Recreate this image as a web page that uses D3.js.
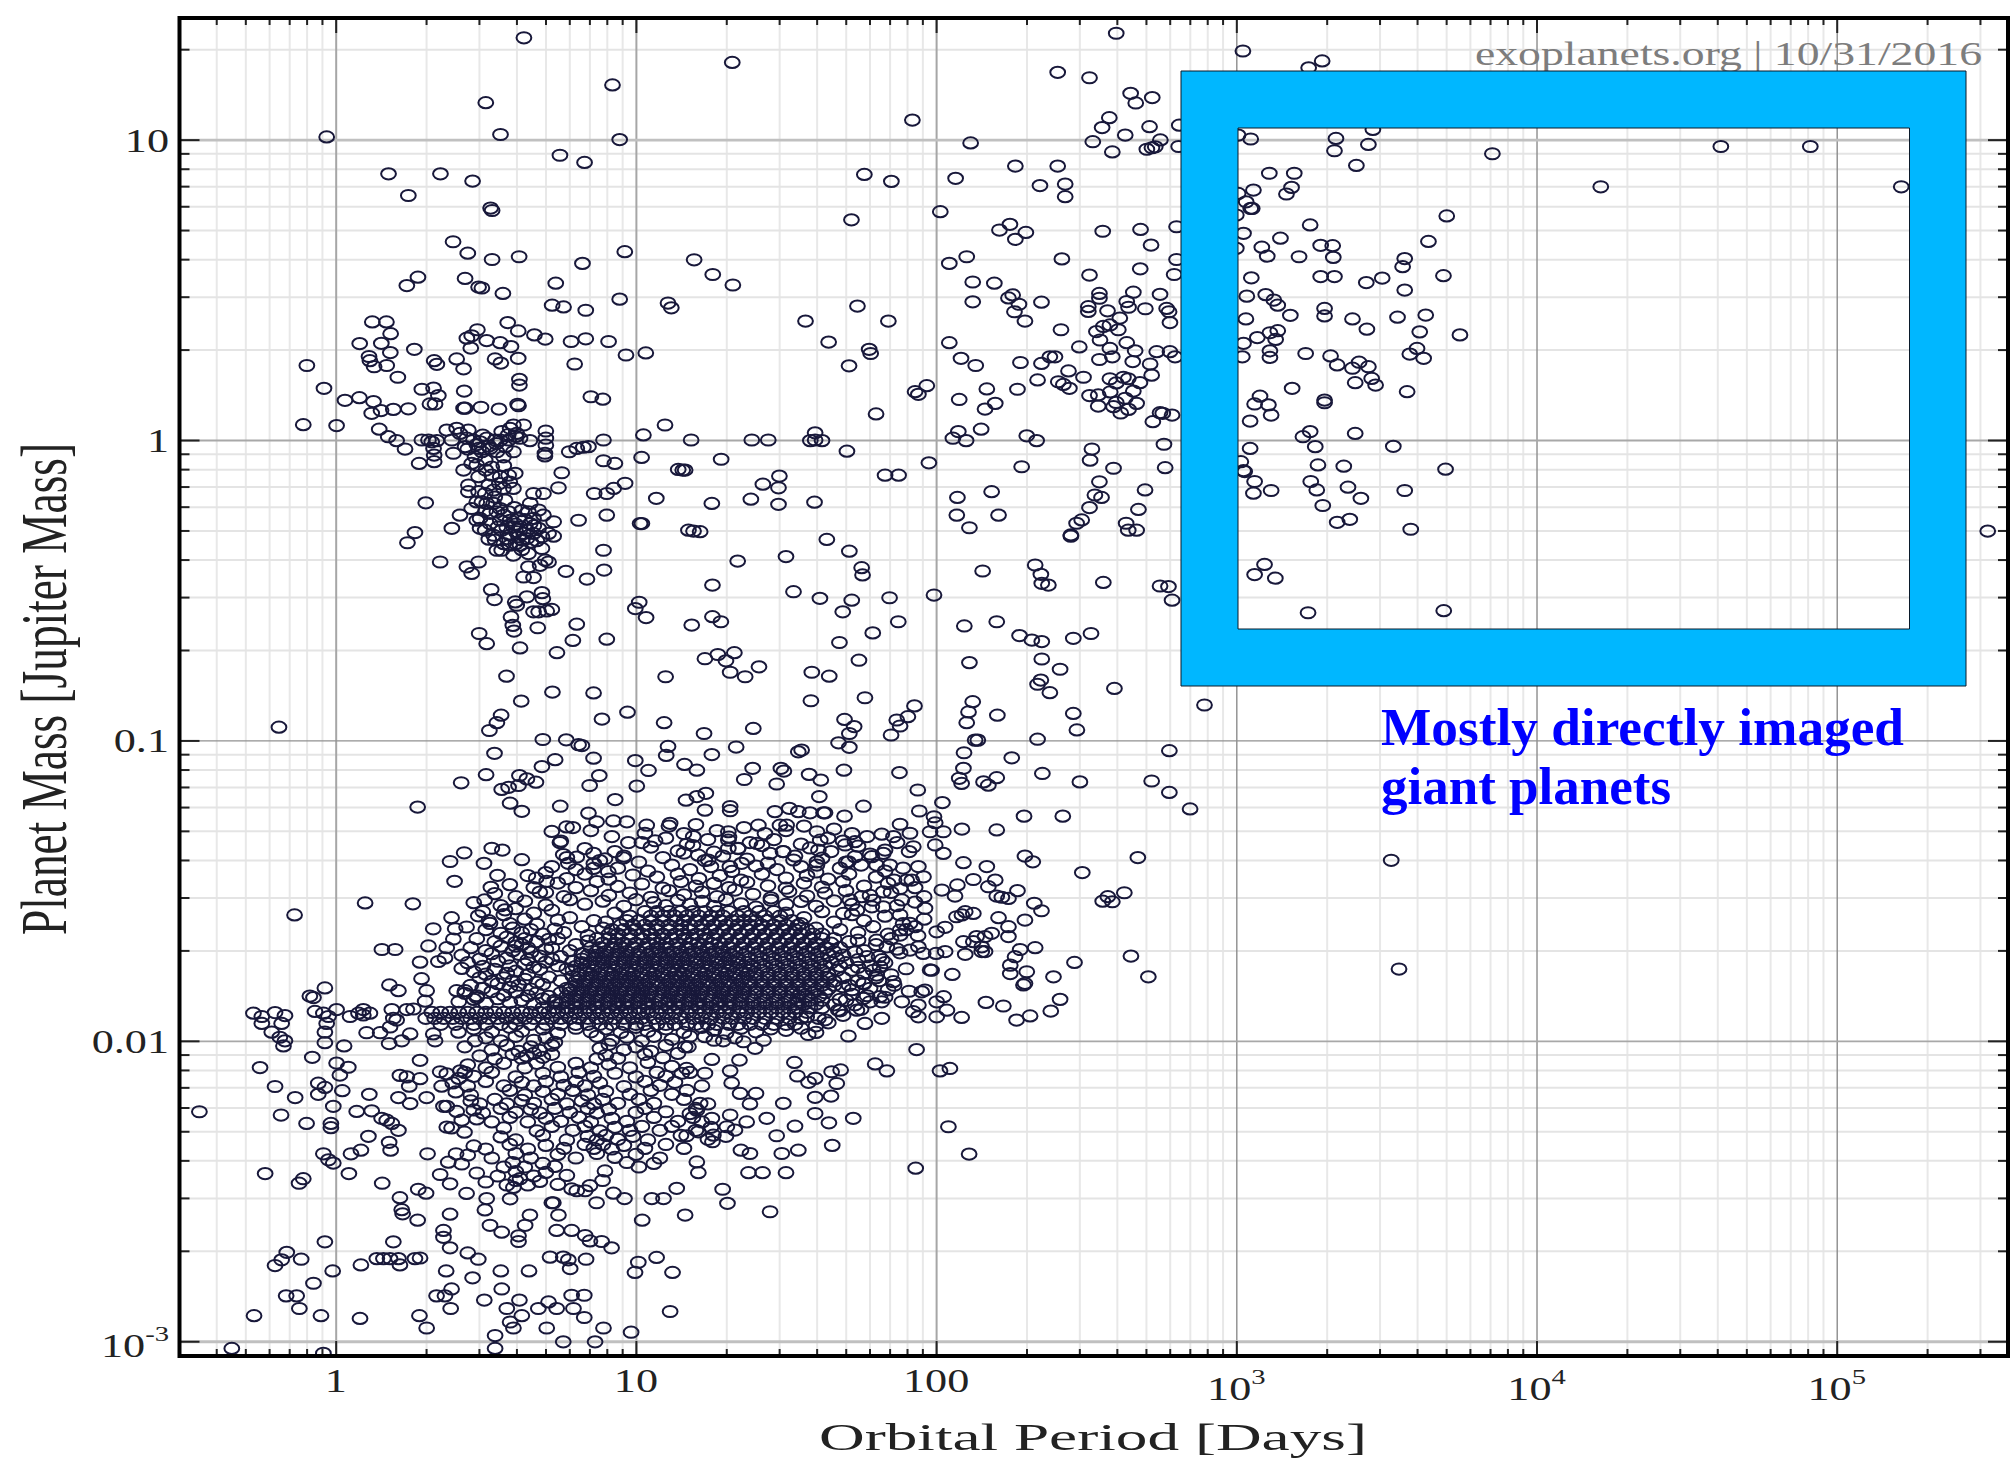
<!DOCTYPE html>
<html lang="en">
<head>
<meta charset="UTF-8">
<title>Planet mass vs orbital period</title>
<script src="https://d3js.org/d3.v7.min.js"></script>
<style>
  html, body { margin: 0; background: #fff; }
  text { font-family: "Liberation Serif", serif; }
  .tick-lbl { font-size: 34px; fill: #222; }
  .frame-ticks path { display: none; }
  .frame-ticks line { stroke: #222; }
  .grid path { display: none; }
</style>
</head>
<body>
<svg id="chart" width="2013" height="1462"></svg>
<script>
// values, all as log10(period in days), log10(mass in Mjup) pairs
var giantsUpperLeft = [
  .627,1.339,.922,1.182,.5,1.123,.549,1.017,-.03,1.009,.946,1,.747,.948,.829,.924,.176,.886,.349,.886,.456,.862,.242,.814,.516,.772,.521,.764,
  .391,.66,.44,.622,.521,.601,.611,.61,.822,.588,.963,.627,.274,.542,.237,.514,.431,.538,.476,.509,.487,.506,.557,.488,.733,.522,.721,.449,.759,.443,
  .833,.432,.946,.469,1.107,.456,1.118,.44,.122,.393,.169,.393,.183,.354,.08,.321,.152,.322,.182,.291,.262,.302,.111,.278,.114,.264,.128,.244,.17,.248,
  .207,.209,-.096,.248,-.039,.172,.031,.132,.079,.141,.126,.128,.12,.089,.151,.098,.192,.102,.242,.104,.287,.169,.326,.173,.342,.148,.314,.12,.331,.12,
  .428,.163,.403,.27,.426,.237,.328,.264,.337,.252,.45,.306,.437,.339,.453,.347,.472,.367,.503,.331,.548,.324,.584,.311,.573,.391,.608,.363,.662,.35,
  .698,.336,.784,.328,.833,.337,.909,.328,.967,.283,1.033,.29,.796,.253,.531,.27,.55,.256,.608,.272,.612,.202,.612,.183,.85,.144,.89,.136,.426,.106,
  .431,.106,.484,.109,.544,.103,.606,.119,.609,.114
];
var giantsUpperMid = [
  1.321,1.257,1.921,1.065,2.115,.989,2.6,1.354,2.405,1.224,2.511,1.206,2.648,1.154,2.665,1.122,2.72,1.14,2.577,1.073,2.553,1.04,2.711,1.043,2.63,1.015,2.81,1.048,
  2.522,.993,2.587,.959,2.702,.968,2.719,.973,2.73,.976,2.747,.999,2.808,.977,1.761,.884,1.851,.861,2.065,.871,2.264,.912,2.405,.912,2.346,.847,2.43,.852,2.43,.81,
  1.718,.733,2.014,.76,2.246,.718,2.211,.699,2.299,.691,2.264,.668,1.194,.6,1.256,.551,1.323,.516,2.102,.61,2.044,.588,2.419,.603,2.555,.695,2.681,.701,2.716,.649,2.801,.71,
  2.68,.57,2.511,.549,2.793,.551,2.801,.601,2.122,.526,2.194,.522,2.122,.46,2.255,.483,2.241,.473,2.276,.452,2.261,.427,2.296,.396,2.351,.459,
  1.738,.446,1.565,.396,1.841,.396,1.642,.326,1.777,.302,1.782,.288,1.71,.247,2.044,.324,2.083,.272,2.132,.248,2.281,.258,2.351,.255,2.379,.277,2.396,.277,2.416,.367,2.477,.31,
  2.441,.23,2.491,.209,2.407,.194,2.424,.185,2.444,.172,2.338,.2,1.969,.181,1.93,.161,1.941,.152,1.8,.087,2.169,.17,2.197,.122,2.163,.103,2.077,.135,2.271,.169,
  2.511,.148,2.54,.15,2.54,.113,2.544,.488,2.544,.472,2.507,.444,2.507,.428,2.571,.43,2.635,.461,2.657,.492,2.641,.442,2.697,.437,2.746,.485,2.768,.438,2.776,.427,2.779,.391,
  2.612,.406,2.579,.383,2.557,.378,2.534,.361,2.607,.367,2.546,.333,2.635,.324,2.579,.305,2.663,.297,2.735,.294,2.779,.294,2.796,.277,2.544,.268,2.587,.277,2.655,.261,2.713,.253,
  2.579,.204,2.64,.204,2.718,.216,2.624,.209,2.679,.191,2.657,.163,2.63,.139,2.668,.122,2.591,.111,2.641,.102,2.746,.091,2.6,.125,2.615,.09,2.58,.16,2.6,.19
];
var longPeriodGiants = [
  3.022,1.295,3.286,1.262,3.241,1.239,3.455,1.034,3.048,1.002,3.006,1.015,3.332,1.004,3.327,.963,3.44,.984,3.853,.953,4.614,.977,4.912,.977,4.214,.843,5.215,.843,3.4,.914,
  3.11,.888,3.193,.888,3.057,.832,3.184,.841,3.167,.819,3.006,.821,3.033,.793,3.048,.771,3.053,.771,3,.749,3.246,.716,3.701,.746,3.024,.688,3.147,.672,3.085,.642,3.103,.612,3,.638,
  3.209,.61,3.281,.648,3.321,.647,3.323,.608,3.64,.661,3.561,.604,3.554,.577,3.69,.547,3.05,.54,3.281,.544,3.327,.544,3.433,.524,3.486,.539,3.561,.499,3.035,.479,3.098,.484,3.125,.466,
  3.138,.449,3.18,.415,3.294,.438,3.294,.413,3.032,.403,3.387,.403,3.435,.369,3.537,.409,3.631,.416,3.611,.36,3.745,.35,3.07,.341,3.112,.357,3.138,.364,3.131,.335,3.024,.322,3.112,.297,
  3.112,.275,3.02,.277,3.231,.288,3.314,.28,3.336,.25,3.409,.259,3.387,.239,3.44,.244,3.602,.305,3.578,.286,3.624,.272,3.186,.172,3.451,.205,3.396,.191,3.464,.183,3.569,.161,3.079,.146,
  3.294,.133,3.294,.124,3.061,.12,3.107,.117,3.116,.083,3.046,.063,3.246,.028,3.222,.011,3.396,.022,3.263,-.022,3.523,-.021,3.046,-.028,3.272,-.083,3.358,-.087,3.697,-.097,3.015,-.072,
  3.024,-.102,3.028,-.105,3.061,-.138,3.057,-.177,3.116,-.168,3.248,-.138,3.268,-.166,3.372,-.157,3.415,-.194,3.561,-.168,3.288,-.218,3.336,-.274,3.378,-.264,3.581,-.297,5.503,-.303,
  3.094,-.414,3.061,-.448,3.13,-.46,3.239,-.575,3.691,-.568,2.755,.089,2.786,.083,2.722,.061,2.786,-.533,2.894,-.882,
  2.846,-1.228,3.516,-1.399,3.542,-1.761
];
var hotJupiters = [
  -.108,.051,.003,.048,.7,.03,.892,0,1.025,.017,1.097,.05,.145,.036,.175,.011,.203,-.002,.231,-.03,.278,-.078,.778,-.039,.803,-.028,.825,-.024,.842,-.022,.7,.006,.7,-.017,.697,-.044,.697,-.053,
  .647,-.002,.892,-.069,.93,-.078,1.019,-.058,.753,-.109,1.141,-.098,.287,0,.309,0,.32,-.006,.337,-.002,.326,-.028,.328,-.05,.328,-.072,.387,0,.392,-.044,.414,.022,.437,.006,.431,-.022,
  .459,0,.481,-.006,.503,.006,.531,0,.553,.028,.581,.039,.603,.022,.576,0,.592,-.039,.559,-.056,.537,-.039,.514,-.028,.487,-.039,.464,-.056,.476,-.028,.453,-.078,.47,-.083,.498,-.067,.426,-.1,
  .37,.033,.403,.039,.442,.033,.626,.05,.592,.05,.548,0,.614,.006,.598,-.111,.576,-.117,.548,-.122,.52,-.117,.476,-.122,.442,-.15,.442,-.172,.476,-.172,.498,-.178,.526,-.167,.559,-.161,.592,-.161,
  .487,-.206,.47,-.206,.526,-.211,.564,-.2,.548,-.228,.576,-.239,.648,-.211,.659,-.178,.692,-.178,.742,-.159,.453,-.228,.481,-.261,.481,-.294,.514,-.278,.548,-.267,.581,-.267,.609,-.261,.642,-.239,
  .659,-.261,.692,-.25,.726,-.272,.809,-.267,.903,-.25,.861,-.178,.903,-.178,.926,-.161,.964,-.144,1.068,-.194,.526,-.317,.553,-.3,.581,-.317,.609,-.322,.626,-.311,.637,-.3,.659,-.311,.709,-.311,
  .726,-.32,.614,-.35,.592,-.383,.537,-.367,.553,-.367,.642,-.378,.687,-.361,.698,-.4,.709,-.406,.892,-.367,.894,-.433,.837,-.463,.767,-.437,.642,-.422,.626,-.456,.659,-.458,.681,-.417,.414,-.25,
  .387,-.294,.264,-.308,.239,-.342,.3,-.209,.348,-.406,.437,-.422,.453,-.444,.476,-.406,1.014,-.278,1.02,-.278,.503,-.211,.514,-.244,.537,-.239,.592,-.289,.614,-.289,.648,-.278,.676,-.294,.62,-.333,
  .637,-.328,.57,-.328,.531,-.333,.498,-.3,.47,-.267,.676,-.233,.687,-.322,.518,-.498,.529,-.531,.598,-.539,.603,-.55,.637,-.522,.687,-.508,.69,-.528,.659,-.572,.676,-.572,.703,-.569,.72,-.564,
  .584,-.589,.59,-.617,.594,-.636,.673,-.625,.803,-.613,.478,-.644,.503,-.678,.614,-.692,.737,-.708,.79,-.667,.903,-.663,1.011,-.54,.998,-.561,1.034,-.591,.569,-.786,1.099,-.788,.722,-.839,.859,-.842,
  .618,-.869,.551,-.916,.537,-.941,.512,-.967,.972,-.906,.887,-.929,1.094,-.941,-.189,-.956,.69,-.997,.768,-.998,.809,-1.014,.82,-1.017,1.107,-1.02,1.101,-1.05,.529,-1.043,.731,-1.064,.687,-1.087,
  .859,-1.059,.998,-1.067,1.042,-1.1,.501,-1.114,.418,-1.141,.612,-1.117,.637,-1.128,.667,-1.139,.878,-1.117,.846,-1.15,1.003,-1.152,.553,-1.163,.576,-1.156,.609,-1.15,.273,-1.222,.581,-1.209,
  .62,-1.236,.748,-1.219,.842,-1.242,.931,-1.197,
  .51,-.02,.535,-.012,.565,-.022,.6,.012,.575,.018,.49,.016,.47,-.015,.44,-.03,.56,-.085,.52,-.09,.5,-.1,.545,-.145,.51,-.15,.58,-.14,.53,-.19,.5,-.235,.56,-.25,.595,-.225,.62,-.235,.6,-.28,.57,-.29,.54,-.29,.66,-.285,.63,-.265,.6,-.345,.58,-.35,.65,-.34,.62,-.365,.6,-.305,.67,-.335,.56,-.345,.51,-.33
];
var midGiants = [
  1.184,0,1.386,0,1.441,0,1.597,.024,1.581,-.002,1.62,-.002,1.597,0,1.703,-.037,1.284,-.064,1.164,-.1,1.156,-.1,1.478,-.12,1.423,-.147,1.475,-.159,1.383,-.197,1.253,-.211,1.475,-.214,1.595,-.207,
  1.83,-.117,1.875,-.117,1.976,-.076,2.074,.028,2.056,.006,2.1,-.002,2.15,.036,2.302,.014,2.335,-.002,2.519,-.03,2.513,-.067,2.591,-.094,2.544,-.139,2.696,-.166,2.759,-.014,2.763,-.092,2.285,-.089,
  2.185,-.172,2.071,-.191,2.069,-.25,2.208,-.25,2.111,-.292,2.529,-.183,2.551,-.191,2.511,-.225,2.485,-.266,2.468,-.277,2.449,-.316,2.449,-.32,2.674,-.231,2.633,-.277,2.64,-.3,2.668,-.3,1.175,-.3,
  1.192,-.303,1.214,-.305,1.636,-.331,1.711,-.37,1.5,-.388,1.339,-.403,1.752,-.425,1.755,-.449,1.255,-.483,1.525,-.505,1.613,-.527,1.719,-.533,1.689,-.572,1.845,-.525,1.993,-.516,2.155,-.436,
  2.33,-.416,2.349,-.447,2.352,-.477,2.374,-.483,2.557,-.474,2.746,-.486,2.774,-.488,1.255,-.588,1.283,-.605,1.186,-.616,1.874,-.605,1.789,-.642,1.678,-.674,2.094,-.619,2.202,-.605,2.278,-.651,
  2.319,-.666,2.352,-.671,2.457,-.66,2.516,-.644,1.273,-.714,1.328,-.708,1.23,-.728,1.3,-.735,1.314,-.773,1.364,-.788,1.41,-.755,1.743,-.733,1.586,-.773,1.644,-.786,2.111,-.741,2.352,-.729,2.413,-.763,
  2.349,-.799,2.338,-.813,2.379,-.841,2.594,-.827,1.583,-.868,1.763,-.858,1.928,-.885,2.122,-.871,2.108,-.905,2.102,-.941,2.204,-.916,2.457,-.91,2.469,-.965,1.695,-.93,1.727,-.954,1.711,-.977,
  1.869,-.932,1.906,-.921,1.88,-.952,1.85,-.982,1.227,-.977,1.391,-.96,1.334,-1.022,1.253,-1.047,1.162,-1.08,1.203,-1.099,1.552,-1.032,1.541,-1.038,1.675,-1.008,1.711,-1.023,2.13,-.999,2.139,-.999,
  2.338,-.996,2.093,-1.041,2.252,-1.058,2.777,-1.034,2.354,-1.11,2.091,-1.093,2.077,-1.126,2.085,-1.143,2.158,-1.138,2.174,-1.149,2.202,-1.124,2.479,-1.138,2.718,-1.135,2.777,-1.173,1.389,-1.093,
  1.483,-1.093,1.493,-1.102,1.361,-1.13,1.469,-1.145,1.577,-1.113,1.616,-1.132,1.693,-1.099,1.878,-1.107,1.939,-1.165,1.611,-1.187,1.167,-1.199,1.203,-1.187,1.233,-1.176,1.23,-1.232,1.314,-1.22,
  1.314,-1.234,1.463,-1.237,1.511,-1.226,1.541,-1.237,1.58,-1.241,1.625,-1.241,1.63,-1.241,1.695,-1.252,1.758,-1.219,2.021,-1.207,1.944,-1.235,1.993,-1.254,2.293,-1.252,2.422,-1.252
];
var lowMassLeft = [
  -.454,-2.236,-.137,-1.581,.098,-1.541,.257,-1.544,.428,-1.374,.381,-1.403,.396,-1.469,.52,-1.359,.555,-1.365,.494,-1.409,.539,-1.449,.517,-1.489,.496,-1.531,.62,-1.397,.668,-1.458,.703,-1.469,.7,-1.506,
  .769,-1.288,.72,-1.303,.747,-1.34,.758,-1.38,.775,-1.409,.803,-1.388,.859,-1.376,.897,-1.394,.859,-1.426,.908,-1.437,.958,-1.391,.975,-1.34,1.03,-1.309,1.064,-1.334,1.036,-1.282,1.114,-1.276,
  .869,-1.271,.925,-1.268,.97,-1.271,.386,-1.59,.325,-1.627,.398,-1.627,.436,-1.621,.475,-1.584,.514,-1.609,.564,-1.564,.154,-1.696,.198,-1.696,.309,-1.684,.281,-1.738,.286,-1.793,.303,-1.833,.298,-1.868,
  .179,-1.814,.209,-1.833,-.036,-1.824,-.086,-1.851,-.074,-1.856,.364,-1.724,.342,-1.736,.42,-1.759,.392,-1.661,.37,-1.69,.403,-1.833,.431,-1.833,.47,-1.856,-.274,-1.908,-.246,-1.919,-.246,-1.942,
  -.202,-1.906,-.169,-1.916,-.18,-1.942,-.069,-1.902,-.041,-1.908,-.024,-1.919,.003,-1.896,-.03,-1.942,.048,-1.919,.076,-1.908,.092,-1.914,.114,-1.908,.092,-1.896,.187,-1.896,.192,-1.925,.181,-1.954,
  .203,-1.931,.237,-1.896,.259,-1.894,-.213,-1.971,-.186,-1.988,-.174,-2.017,-.169,-2,-.036,-1.971,-.036,-2.006,.028,-2.017,-.078,-2.055,-.252,-2.089,.103,-1.973,.148,-1.973,.178,-2.009,.22,-2,.248,-1.977,
  .325,-1.977,.331,-2,.409,-1.971,.464,-2,.281,-2.065,.003,-2.074,.042,-2.088,.014,-2.114,-.058,-2.141,-.036,-2.155,-.058,-2.178,.022,-2.166,-.135,-2.189,-.202,-2.152,-.182,-2.247,-.097,-2.275,
  -.008,-2.218,-.016,-2.275,-.016,-2.289,.07,-2.235,.12,-2.233,.112,-2.178,.214,-2.115,.237,-2.12,.281,-2.126,.245,-2.151,.209,-2.189,.248,-2.209,.303,-2.189,.348,-2.103,.353,-2.151,.359,-2.218,.37,-2.218,
  .403,-2.235,.42,-2.264,.37,-2.287,.386,-2.29,.429,-2.304,.153,-2.258,.17,-2.264,.187,-2.275,.209,-2.298,.109,-2.318,.178,-2.338,.183,-2.364,.084,-2.364,.051,-2.376,.306,-2.376,-.041,-2.376,-.024,-2.396,
  -.008,-2.407,.044,-2.442,.155,-2.474,-.235,-2.442,-.108,-2.459,-.122,-2.474,.348,-2.445,.381,-2.476,.375,-2.404,.401,-2.376,.436,-2.508,.275,-2.494,.301,-2.507,.214,-2.522,.22,-2.562,.223,-2.576,.273,-2.597,
  .381,-2.577,.503,-2.525,.497,-2.563,.514,-2.614,.553,-2.637,.581,-2.526,.592,-2.488,.614,-2.459,.647,-2.58,.631,-2.614,.609,-2.649,.609,-2.668,.359,-2.631,.359,-2.654,.381,-2.689,.192,-2.669,-.036,-2.669,
  .44,-2.706,.475,-2.727,-.163,-2.704,-.18,-2.729,-.202,-2.748,-.115,-2.727,-.01,-2.766,.084,-2.746,.137,-2.725,.159,-2.725,.181,-2.725,.209,-2.725,.214,-2.746,.264,-2.725,.281,-2.723,-.074,-2.807,
  -.165,-2.849,-.13,-2.849,-.121,-2.891,-.049,-2.915,-.272,-2.915,.081,-2.924,.279,-2.915,.303,-2.956,.336,-2.849,.364,-2.849,.386,-2.826,.383,-2.891,.368,-2.766,.456,-2.789,.495,-2.863,.55,-2.766,
  .553,-2.826,.644,-2.766,.612,-2.863,.57,-2.891,.62,-2.915,.581,-2.936,.592,-2.956,.675,-2.891,.709,-2.869,.736,-2.891,.786,-2.847,.828,-2.847,.792,-2.891,.828,-2.921,.531,-2.981,.531,-3.024,.703,-2.956,
  .758,-3.002,.864,-3.002,.892,-2.956,.984,-2.97,-.346,-3.024,-.041,-3.04,.714,-2.72,.758,-2.72,.775,-2.729,.781,-2.758,.834,-2.727,.736,-2.631,.786,-2.631,.831,-2.648,.847,-2.666,.886,-2.668,.919,-2.689,
  1.008,-2.737,.997,-2.771,1.069,-2.721,1.122,-2.771,1.021,-2.597,1.114,-2.901,.72,-2.539,.742,-2.58,.725,-2.539,.786,-2.493,.803,-2.499,.831,-2.499,.847,-2.482,.869,-2.539,.925,-2.507,.962,-2.525,
  1.053,-2.525,1.092,-2.525,1.136,-2.491,.897,-2.433,.889,-2.465
];
var lowMassRight = [
  2.672,-1.39,2.487,-1.44,2.296,-1.385,2.322,-1.404,2.202,-1.298,2.086,-1.295,2.091,-1.407,2.169,-1.42,2.124,-1.463,2.197,-1.465,2.071,-1.481,2.019,-1.498,2.063,-1.518,2.174,-1.487,2.202,-1.518,2.219,-1.522,
  2.241,-1.526,2.271,-1.5,2.327,-1.542,2.351,-1.567,2.296,-1.598,2.627,-1.507,2.572,-1.52,2.555,-1.535,2.587,-1.537,2.086,-1.581,2.097,-1.57,2.124,-1.576,2.068,-1.587,2.208,-1.59,2.241,-1.62,2.241,-1.653,
  2.185,-1.642,2.163,-1.653,2.135,-1.653,2.124,-1.67,2.152,-1.687,2.163,-1.703,2.152,-1.703,2.091,-1.67,2.097,-1.712,2.03,-1.622,2.002,-1.637,2.33,-1.69,2.28,-1.696,2.263,-1.72,2.461,-1.739,2.649,-1.718,
  2.707,-1.787,2.247,-1.748,2.247,-1.776,2.302,-1.77,2.296,-1.809,2.291,-1.814,2.391,-1.787,2.413,-1.862,2.382,-1.901,2.313,-1.917,2.268,-1.931,2.224,-1.884,2.166,-1.872,2.085,-1.922,2.054,-1.779,1.98,-1.764,
  1.985,-1.765,2.036,-1.898,2.002,-1.92,2.025,-1.853,2.002,-1.87,1.963,-1.831,1.952,-1.837,1.924,-1.903,1.941,-1.92,2,-1.709,2.03,-1.703,1.957,-1.709,1.913,-1.698,1.88,-1.707,1.941,-1.687,1.913,-1.609,
  1.93,-1.62,1.963,-1.559,1.902,-1.465,1.919,-1.465,1.958,-1.454,1.88,-1.493,1.886,-1.531,1.88,-1.581,1.88,-1.631,1.88,-1.648,1.824,-1.504,1.941,-1.42,2.024,-1.376,1.997,-1.348,1.98,-1.304,2.024,-1.304,
  1.924,-1.354,1.913,-1.309,1.819,-1.312,1.858,-1.32,1.824,-1.376,1.802,-1.415,1.846,-1.415,1.88,-1.279,1.997,-1.274,1.73,-1.337,1.697,-1.348,1.786,-1.387,1.708,-1.404,1.73,-1.387,1.603,-1.304,1.614,-1.332,
  1.608,-1.365,1.603,-1.404,1.603,-1.415,1.491,-1.37,1.447,-1.376,1.525,-1.398,1.403,-1.343,1.308,-1.304,1.308,-1.332,1.308,-1.359,1.341,-1.359,1.208,-1.382,1.241,-1.398,1.313,-1.42,1.352,-1.409,1.191,-1.32,
  1.48,-1.282,1.408,-1.282,1.502,-1.282,1.935,-2.029,1.797,-2.077,1.836,-2.1,2.013,-2.1,2.046,-2.092,2.041,-2.286,2.11,-2.377,1.932,-2.424,1.708,-1.984,1.574,-1.979,1.425,-1.998,1.397,-2.025,1.358,-2.003,
  1.291,-2,1.23,-1.986,1.164,-2.02,1.175,-2.02,1.528,-2.072,1.538,-2.117,1.575,-2.138,1.597,-2.125,1.652,-2.103,1.682,-2.097,1.669,-2.142,1.65,-2.184,1.597,-2.188,1.597,-2.242,1.643,-2.273,1.724,-2.258,
  1.654,-2.348,1.253,-2.062,1.345,-2.064,1.314,-2.1,1.23,-2.108,1.169,-2.092,1.153,-2.108,1.319,-2.14,1.347,-2.175,1.4,-2.175,1.38,-2.21,1.491,-2.208,1.436,-2.258,1.53,-2.284,1.469,-2.316,1.541,-2.364,
  1.486,-2.375,1.38,-2.375,1.35,-2.364,1.214,-2.208,1.203,-2.231,1.253,-2.258,1.314,-2.247,1.369,-2.27,1.33,-2.297,1.303,-2.286,1.258,-2.314,1.255,-2.336,1.208,-2.303,1.169,-2.316,1.18,-2.242,1.203,-2.403,
  1.208,-2.439,1.375,-2.439,1.422,-2.439,1.5,-2.439,1.289,-2.494,1.305,-2.541,1.447,-2.569,1.164,-2.58,1.569,-1.92,1.608,-1.925,1.641,-1.94,1.674,-1.898,1.736,-1.898,1.763,-1.942,1.819,-1.925,1.813,-1.853,
  1.758,-1.859,1.819,-1.87,1.886,-1.87,1.941,-1.881,1.858,-1.803,1.802,-1.781,1.813,-1.753,1.758,-1.809,1.836,-1.687,1.802,-1.665,1.786,-1.554,1.824,-1.554,1.713,-1.531,1.752,-1.52,1.691,-1.576,1.736,-1.565
];
// estimated by eye, the cloud above the core
var cloudTop = [
  .79,-1.29,.85,-1.3,1.11,-1.285,1.16,-1.31,1.2,-1.28,1.27,-1.3,1.36,-1.29,1.43,-1.31,1.5,-1.3,1.56,-1.285,1.66,-1.295,1.72,-1.31,.75,-1.335,.92,-1.32,1.02,-1.34,1.1,-1.325,1.17,-1.345,1.24,-1.33,1.31,-1.322,
  1.38,-1.34,1.46,-1.33,1.55,-1.345,1.64,-1.325,1.69,-1.335,1.77,-1.32,1.87,-1.34,.83,-1.36,.93,-1.37,1.05,-1.355,1.14,-1.368,1.19,-1.35,1.26,-1.372,1.34,-1.36,1.42,-1.35,1.49,-1.37,1.58,-1.358,1.65,-1.37,
  1.74,-1.352,1.83,-1.365,1.91,-1.37,.77,-1.39,.88,-1.4,.96,-1.385,1.01,-1.405,1.09,-1.39,1.16,-1.375,1.23,-1.4,1.29,-1.385,1.37,-1.395,1.44,-1.408,1.53,-1.385,1.62,-1.392,1.7,-1.405,1.78,-1.378,
  .72,-1.42,.8,-1.43,.86,-1.41,.94,-1.425,1.04,-1.435,1.12,-1.415,1.18,-1.43,1.25,-1.42,1.32,-1.436,1.4,-1.418,1.47,-1.43,1.55,-1.42,1.6,-1.438,1.68,-1.425,1.75,-1.415,1.83,-1.435,1.89,-1.425,
  .64,-1.45,.7,-1.44,.77,-1.46,.83,-1.445,.91,-1.462,.99,-1.448,1.07,-1.455,1.14,-1.445,1.21,-1.46,1.28,-1.45,1.35,-1.465,1.42,-1.445,1.5,-1.458,1.57,-1.45,1.64,-1.462,1.71,-1.445,1.8,-1.455,1.86,-1.465,
  .58,-1.48,.66,-1.49,.74,-1.475,.8,-1.49,.87,-1.47,.94,-1.486,1.02,-1.478,1.09,-1.492,1.15,-1.47,1.2,-1.485,1.26,-1.476,1.31,-1.49,1.37,-1.472,1.44,-1.484,1.5,-1.492,1.56,-1.475,1.62,-1.488,1.69,-1.47,
  1.76,-1.485,1.84,-1.476,1.93,-1.49,.53,-1.51,.6,-1.52,.68,-1.505,.76,-1.52,.85,-1.5,.91,-1.516,.98,-1.508,1.05,-1.522,1.11,-1.5,1.16,-1.514,1.22,-1.505,1.27,-1.52,1.33,-1.498,1.39,-1.512,1.45,-1.524,
  1.51,-1.503,1.57,-1.518,1.63,-1.508,1.7,-1.5,1.78,-1.516,1.85,-1.506,1.96,-1.52,.46,-1.54,.55,-1.55,.63,-1.535,.7,-1.548,.78,-1.53,.83,-1.545,.89,-1.535,.96,-1.552,1,-1.53,1.06,-1.54,1.1,-1.55,1.14,-1.532,
  1.18,-1.546,1.22,-1.536,1.26,-1.552,1.3,-1.53,1.35,-1.544,1.4,-1.555,1.45,-1.532,1.5,-1.546,1.55,-1.536,1.6,-1.552,1.66,-1.534,1.72,-1.546,1.79,-1.532,1.87,-1.55,1.93,-1.538
];
// left edge and right tail of the core
var coreEdges = [
  .49,-1.57,.56,-1.58,.6,-1.56,.66,-1.575,.72,-1.565,.51,-1.6,.58,-1.61,.63,-1.595,.67,-1.612,.74,-1.598,.5,-1.63,.55,-1.642,.59,-1.625,.62,-1.64,.65,-1.63,.69,-1.645,.73,-1.628,.47,-1.66,.53,-1.67,.57,-1.655,
  .6,-1.672,.63,-1.66,.6,-1.685,.62,-1.68,.64,-1.69,.67,-1.67,.71,-1.662,.45,-1.69,.5,-1.7,.55,-1.685,.59,-1.7,.65,-1.705,.7,-1.695,.42,-1.715,.48,-1.728,.52,-1.71,.57,-1.725,.61,-1.712,.64,-1.73,.68,-1.718,
  .72,-1.728,.44,-1.74,.49,-1.752,.54,-1.735,.58,-1.75,.63,-1.745,.66,-1.755,.7,-1.738,.46,-1.77,.5,-1.778,.53,-1.762,.57,-1.775,.6,-1.768,.64,-1.78,.68,-1.762,.48,-1.79,.52,-1.802,.56,-1.79,.59,-1.8,.63,-1.795,
  .67,-1.805,.71,-1.788,.45,-1.815,.49,-1.825,.54,-1.81,.58,-1.822,.61,-1.815,.65,-1.828,.69,-1.812,.43,-1.842,.47,-1.85,.52,-1.836,.56,-1.848,.6,-1.838,.64,-1.85,.67,-1.84,.71,-1.852,.41,-1.87,.46,-1.862,.5,-1.875,
  .54,-1.86,.58,-1.872,.62,-1.865,.66,-1.878,.69,-1.86,.73,-1.872,
  .78,-1.59,.86,-1.6,.93,-1.575,.82,-1.62,.9,-1.605,.76,-1.64,.84,-1.65,.89,-1.625,.74,-1.66,.8,-1.68,.84,-1.668,.72,-1.69,.78,-1.7,.82,-1.71,.75,-1.72,.79,-1.735,.74,-1.75,.77,-1.76,.79,-1.785,.75,-1.8,.77,-1.825,
  1.5,-1.575,1.56,-1.59,1.62,-1.57,1.55,-1.61,1.6,-1.625,1.66,-1.605,1.62,-1.645,1.68,-1.63,1.66,-1.66,1.71,-1.67,1.73,-1.705,1.77,-1.72,1.74,-1.755,1.79,-1.765,1.82,-1.73,1.76,-1.81,1.81,-1.8,1.86,-1.815,1.72,-1.83,
  1.77,-1.85,1.83,-1.855,1.7,-1.865,1.75,-1.895,1.68,-1.9,
  1.72,-1.58,1.76,-1.6,1.83,-1.585,1.89,-1.61,1.96,-1.595,1.74,-1.64,1.79,-1.62,1.84,-1.645,1.9,-1.63,1.74,-1.665,1.8,-1.68,1.85,-1.66,1.94,-1.65,1.76,-1.7,1.81,-1.72,1.87,-1.695,1.74,-1.73,1.78,-1.75,1.83,-1.74,
  1.9,-1.76,1.76,-1.775,1.72,-1.765,1.8,-1.79,1.85,-1.78,1.74,-1.8,1.69,-1.82,1.78,-1.825,1.84,-1.83,1.91,-1.835,1.72,-1.845,1.68,-1.862,1.78,-1.87,1.73,-1.88,1.66,-1.88,1.69,-1.915,1.63,-1.93,1.6,-1.95
];
// the very dense core, rows estimated by eye: log10 mass, then the log10 periods on that row
var coreMass = [-1.57,-1.585,-1.6,-1.615,-1.63,-1.645,-1.66,-1.675,-1.69,-1.703,-1.715,-1.728,-1.74,-1.752,-1.765,-1.778,-1.79,-1.802,-1.815,-1.828,-1.84,-1.852,-1.865,-1.878,-1.89,-1.905,-1.925,-1.945];
var corePeriods = [
  [1.03,1.07,1.11,1.15,1.19,1.23,1.27,1.31,1.36,1.41,1.46],
  [.98,1.05,1.09,1.13,1.17,1.21,1.25,1.29,1.34,1.38,1.43,1.48],
  [.97,1.01,1.05,1.09,1.13,1.16,1.2,1.24,1.28,1.32,1.36,1.4,1.44,1.48,1.52],
  [.95,.99,1.03,1.07,1.11,1.15,1.18,1.22,1.26,1.3,1.34,1.38,1.42,1.46,1.5,1.54],
  [.92,.96,1,1.04,1.07,1.11,1.15,1.18,1.22,1.25,1.29,1.33,1.37,1.41,1.45,1.49,1.53,1.57],
  [.91,.94,.98,1.02,1.05,1.09,1.13,1.16,1.2,1.23,1.27,1.31,1.35,1.39,1.43,1.47,1.51,1.55,1.59],
  [.87,.91,.94,.98,1.02,1.06,1.09,1.12,1.16,1.19,1.23,1.26,1.3,1.34,1.38,1.42,1.46,1.5,1.54,1.58,1.62],
  [.89,.93,.96,1,1.04,1.07,1.1,1.14,1.18,1.21,1.25,1.28,1.32,1.36,1.4,1.44,1.48,1.52,1.56,1.6,1.65],
  [.85,.88,.92,.95,.99,1.03,1.07,1.1,1.14,1.17,1.21,1.24,1.28,1.31,1.35,1.39,1.43,1.47,1.51,1.55,1.59,1.63,1.68],
  [.87,.9,.94,.97,1.01,1.05,1.08,1.12,1.15,1.19,1.22,1.26,1.29,1.33,1.37,1.41,1.45,1.49,1.53,1.57,1.61,1.66],
  [.84,.87,.9,.94,.97,1.01,1.04,1.08,1.11,1.15,1.18,1.22,1.25,1.29,1.32,1.36,1.4,1.44,1.48,1.52,1.56,1.6,1.64,1.69],
  [.82,.86,.89,.92,.96,.99,1.03,1.06,1.1,1.13,1.17,1.2,1.24,1.27,1.31,1.34,1.38,1.42,1.46,1.5,1.54,1.58,1.62,1.67],
  [.82,.85,.89,.92,.96,.99,1.03,1.06,1.1,1.13,1.16,1.2,1.23,1.27,1.3,1.34,1.37,1.41,1.45,1.49,1.53,1.57,1.61,1.65,1.7],
  [.8,.84,.87,.91,.94,.98,1.01,1.05,1.08,1.12,1.15,1.18,1.22,1.25,1.29,1.32,1.36,1.39,1.43,1.47,1.51,1.55,1.59,1.63,1.68],
  [.79,.83,.86,.9,.93,.97,1,1.04,1.07,1.11,1.14,1.17,1.21,1.24,1.28,1.31,1.35,1.38,1.42,1.46,1.5,1.54,1.58,1.62,1.67],
  [.81,.85,.88,.92,.95,.99,1.02,1.06,1.09,1.13,1.16,1.19,1.23,1.26,1.3,1.33,1.37,1.4,1.44,1.48,1.52,1.56,1.6,1.64],
  [.81,.85,.88,.92,.95,.98,1.02,1.05,1.09,1.12,1.15,1.19,1.22,1.26,1.29,1.33,1.36,1.4,1.44,1.48,1.52,1.56,1.6,1.64,1.69],
  [.8,.83,.87,.9,.94,.97,1,1.04,1.07,1.11,1.14,1.17,1.21,1.24,1.28,1.31,1.35,1.38,1.42,1.46,1.5,1.54,1.58,1.62,1.66],
  [.8,.83,.87,.9,.93,.97,1,1.03,1.07,1.1,1.14,1.17,1.2,1.24,1.27,1.31,1.34,1.38,1.42,1.46,1.5,1.54,1.58,1.62,1.66,1.71],
  [.78,.82,.85,.89,.92,.95,.99,1.02,1.05,1.09,1.12,1.16,1.19,1.22,1.26,1.29,1.33,1.36,1.4,1.44,1.48,1.52,1.56,1.6,1.64],
  [.75,.78,.82,.85,.89,.92,.95,.99,1.02,1.05,1.09,1.12,1.16,1.19,1.22,1.26,1.29,1.33,1.36,1.4,1.44,1.48,1.52,1.55,1.59,1.63],
  [.77,.8,.84,.87,.91,.94,.97,1.01,1.04,1.07,1.11,1.14,1.18,1.21,1.24,1.28,1.31,1.35,1.38,1.42,1.46,1.5,1.54,1.57,1.61],
  [.73,.77,.8,.84,.87,.91,.94,.97,1.01,1.04,1.08,1.11,1.14,1.18,1.21,1.25,1.28,1.31,1.35,1.39,1.43,1.47,1.51,1.54,1.58,1.62],
  [.75,.79,.82,.86,.89,.93,.96,.99,1.03,1.06,1.1,1.13,1.16,1.2,1.23,1.27,1.3,1.33,1.37,1.41,1.45,1.49,1.53,1.56,1.6],
  [.69,.73,.77,.8,.84,.87,.91,.94,.97,1.01,1.04,1.08,1.11,1.14,1.18,1.21,1.25,1.28,1.31,1.35,1.39,1.43,1.47,1.51,1.54,1.58,1.62],
  [.32,.35,.38,.41,.44,.47,.5,.53,.56,.59,.62,.65,.68,.71,.74,.77,.8,.83,.86,.89,.92,.95,.98,1.01,1.04,1.07,1.1,1.13,1.17,1.2,1.23,1.27,1.3,1.34,1.37,1.41,1.45,1.49,1.53,1.57],
  [.3,.33,.36,.39,.42,.45,.48,.51,.54,.57,.6,.63,.66,.69,.72,.75,.78,.81,.84,.87,.9,.93,.96,.99,1.02,1.06,1.09,1.12,1.15,1.19,1.22,1.25,1.29,1.32,1.36,1.39,1.43,1.47,1.51,1.55],
  [.35,.4,.46,.5,.55,.6,.65,.7,.75,.8,.84,.88,.92,.96,1,1.03,1.07,1.1,1.13,1.17,1.2,1.24,1.27,1.31,1.34,1.38,1.42,1.46,1.5,1.53]
];
// estimated by eye, the cloud below the core
var cloudBottom = [
  .46,-1.96,.52,-1.97,.58,-1.955,.62,-1.968,.69,-1.96,.74,-1.975,.8,-1.958,.85,-1.97,.9,-1.96,.95,-1.972,1,-1.955,1.04,-1.968,1.1,-1.96,1.16,-1.972,1.22,-1.955,1.26,-1.965,1.3,-1.975,1.35,-1.958,1.4,-1.97,
  1.45,-1.96,1.5,-1.965,1.55,-1.958,1.6,-1.972,.5,-1.99,.55,-2,.6,-1.985,.66,-1.998,.7,-1.99,.73,-2.005,.87,-1.985,.92,-1.998,.97,-1.988,1.02,-2,1.06,-1.985,1.12,-1.995,1.18,-1.985,1.26,-1.998,1.33,-1.99,
  .43,-2.02,.52,-2.03,.57,-2.015,.61,-2.035,.65,-2.02,.68,-2.032,.72,-2.015,.88,-2.025,.91,-2.012,.96,-2.03,1,-2.02,1.05,-2.035,1.1,-2.015,.48,-2.05,.53,-2.06,.59,-2.045,.62,-2.058,.635,-2.05,.66,-2.042,
  .69,-2.055,.72,-2.045,.87,-2.06,.9,-2.048,.94,-2.058,1.03,-2.045,1.09,-2.056,1.14,-2.042,.44,-2.08,.5,-2.09,.56,-2.075,.63,-2.09,.67,-2.075,.74,-2.088,.8,-2.075,.85,-2.09,.91,-2.078,.98,-2.09,1.04,-2.072,
  1.12,-2.085,.37,-2.11,.41,-2.125,.43,-2.105,.415,-2.1,.46,-2.118,.52,-2.105,.6,-2.12,.69,-2.108,.75,-2.12,.81,-2.105,.86,-2.118,.93,-2.108,1,-2.12,1.07,-2.105,1.1,-2.118,1.18,-2.105,.39,-2.14,.44,-2.15,
  .5,-2.135,.56,-2.15,.62,-2.138,.66,-2.15,.7,-2.135,.76,-2.148,.8,-2.135,.83,-2.15,.88,-2.14,.96,-2.152,1.03,-2.135,1.08,-2.148,1.13,-2.138,1.22,-2.15,.4,-2.17,.45,-2.18,.58,-2.165,.63,-2.18,.69,-2.168,
  .74,-2.178,.79,-2.165,.84,-2.18,.9,-2.168,.98,-2.178,1.05,-2.165,1.12,-2.178,1.17,-2.165,.45,-2.2,.48,-2.21,.53,-2.195,.57,-2.21,.62,-2.198,.66,-2.208,.72,-2.195,.77,-2.21,.82,-2.2,.86,-2.21,.89,-2.195,
  .94,-2.208,1.01,-2.195,1.06,-2.208,1.16,-2.195,1.24,-2.21,.46,-2.23,.49,-2.24,.55,-2.225,.6,-2.238,.65,-2.228,.68,-2.24,.73,-2.225,.78,-2.238,.84,-2.225,.87,-2.24,.91,-2.228,1,-2.238,1.03,-2.225,1.1,-2.236,
  1.2,-2.225,.47,-2.26,.52,-2.27,.58,-2.255,.64,-2.27,.7,-2.258,.75,-2.268,.81,-2.255,.85,-2.27,.92,-2.258,.97,-2.268,1.06,-2.255,1.14,-2.268,1.19,-2.255,1.22,-2.27,.56,-2.29,.67,-2.3,.72,-2.285,.79,-2.298,
  .83,-2.285,.88,-2.3,.93,-2.288,.98,-2.298,1.02,-2.285,1.08,-2.298,1.12,-2.285,1.2,-2.298,1.25,-2.288,.55,-2.32,.6,-2.33,.69,-2.315,.77,-2.33,.84,-2.318,.87,-2.33,.9,-2.315,.94,-2.328,.99,-2.318,1.04,-2.33,
  1.15,-2.315,1.24,-2.328,1.3,-2.318,.46,-2.35,.5,-2.36,.58,-2.345,.64,-2.36,.7,-2.348,.76,-2.358,.83,-2.345,.86,-2.358,.89,-2.345,.92,-2.36,.96,-2.348,1.03,-2.358,1.1,-2.345,1.16,-2.358,.44,-2.38,.52,-2.39,
  .6,-2.375,.65,-2.39,.74,-2.378,.8,-2.39,.87,-2.375,.93,-2.388,1,-2.378,1.08,-2.39,.42,-2.41,.56,-2.42,.59,-2.405,.63,-2.42,.69,-2.408,.73,-2.418,.97,-2.405,1.01,-2.42,1.06,-2.408,.47,-2.44,.54,-2.45,.6,-2.435,
  .66,-2.45,.7,-2.438,.77,-2.448,.5,-2.47,.57,-2.48,.6,-2.465,.64,-2.48,.68,-2.468,.74,-2.478
];

var xTicks = [1, 10, 100, 1000, 10000, 100000];
var xTickText = ['1', '10', '100', '10', '10', '10'];
var xTickSup = ['', '', '', '3', '4', '5'];
var yTicks = [10, 1, 0.1, 0.01, 0.001];
var yTickText = ['10', '1', '0.1', '0.01', '10'];
var yTickSup = ['', '', '', '', '-3'];
var xMinor = [.4,.5,.6,.7,.8,.9,2,3,4,5,6,7,8,9,20,30,40,50,60,70,80,90,200,300,400,500,600,700,800,900,2000,3000,4000,5000,6000,7000,8000,9000,
  20000,30000,40000,50000,60000,70000,80000,90000,200000,300000];
var yMinor = [20,2,3,4,5,6,7,8,9,.2,.3,.4,.5,.6,.7,.8,.9,.02,.03,.04,.05,.06,.07,.08,.09,.002,.003,.004,.005,.006,.007,.008,.009];
var noteLines = ['Mostly directly imaged', 'giant planets'];

var points = [];
[giantsUpperLeft, giantsUpperMid, longPeriodGiants, hotJupiters, midGiants, lowMassLeft, lowMassRight, cloudTop, coreEdges, cloudBottom].forEach(function (list) {
  for (var i = 0; i < list.length; i += 2) points.push({ period: Math.pow(10, list[i]), mass: Math.pow(10, list[i + 1]) });
});
coreMass.forEach(function (m, i) {
  corePeriods[i].forEach(function (p) { points.push({ period: Math.pow(10, p), mass: Math.pow(10, m) }); });
});

var left = 179.5, right = 2008, top_ = 18, bottom = 1356;
var x = d3.scaleLog().domain([0.3018, 372000]).range([left, right]);
var y = d3.scaleLog().domain([0.000893, 25.4]).range([bottom, top_]);
var svg = d3.select('#chart');
svg.append('rect').attr('width', 2013).attr('height', 1462).attr('fill', '#fff');
svg.append('clipPath').attr('id', 'plot').append('rect')
  .attr('x', left).attr('y', top_).attr('width', right - left).attr('height', bottom - top_);

// grid, drawn with long axis ticks
function grid(axis, at, color, width) {
  var g = svg.append('g').attr('class', 'grid').attr('transform', at).call(axis.tickFormat(''));
  g.selectAll('line').attr('stroke', color).attr('stroke-width', width);
  return g;
}
grid(d3.axisBottom(x).tickValues(xMinor).tickSize(-(bottom - top_)), 'translate(0,' + bottom + ')', '#e8e8e8', 2);
grid(d3.axisLeft(y).tickValues(yMinor).tickSize(-(right - left)), 'translate(' + left + ',0)', '#e4e4e4', 2);
grid(d3.axisBottom(x).tickValues(xTicks.slice(0, 3)).tickSize(-(bottom - top_)), 'translate(0,' + bottom + ')', '#a6a6a6', 2);
grid(d3.axisBottom(x).tickValues(xTicks.slice(3)).tickSize(-(bottom - top_)), 'translate(0,' + bottom + ')', '#8c8c8c', 1.4);
grid(d3.axisLeft(y).tickValues([1, 0.01]).tickSize(-(right - left)), 'translate(' + left + ',0)', '#a8a8a8', 1.8);
grid(d3.axisLeft(y).tickValues([0.1]).tickSize(-(right - left)), 'translate(' + left + ',0)', '#909090', 1.3);
grid(d3.axisLeft(y).tickValues([10, 0.001]).tickSize(-(right - left)), 'translate(' + left + ',0)', '#c0c0c0', 2.8);

svg.append('text').attr('x', 1475).attr('y', 65).attr('font-size', 34).attr('fill', '#7d7d7d')
  .attr('textLength', 507).attr('lengthAdjust', 'spacingAndGlyphs').text('exoplanets.org | 10/31/2016');

// planets
svg.append('g').attr('clip-path', 'url(#plot)').selectAll('ellipse').data(points).enter().append('ellipse')
  .attr('cx', function (d) { return x(d.period); })
  .attr('cy', function (d) { return y(d.mass); })
  .attr('rx', 7.4).attr('ry', 5.6)
  .attr('fill', 'none').attr('stroke', '#18183a').attr('stroke-width', 2);

// the blue box laid over the chart, open in the middle
var boxOuter = [1181, 71, 785, 615], boxInner = [1238, 128, 671.5, 501];
svg.append('path').attr('fill', '#00b7ff').attr('fill-rule', 'evenodd').attr('stroke', '#0a1a2a').attr('stroke-width', 1)
  .attr('d', [boxOuter, boxInner].map(function (b) {
    return 'M' + b[0] + ',' + b[1] + 'h' + b[2] + 'v' + b[3] + 'h' + (-b[2]) + 'Z';
  }).join(''));

var note = svg.append('g');
noteLines.forEach(function (t, i) {
  note.append('text').attr('x', 1381).attr('y', 745 + i * 59).attr('font-size', 53).attr('font-weight', 'bold').attr('fill', '#0000ff')
    .attr('textLength', i === 0 ? 523 : 290).attr('lengthAdjust', 'spacingAndGlyphs').text(t);
});

// ticks on all four sides
function frameTicks(axis, at, width) {
  var g = svg.append('g').attr('class', 'frame-ticks').attr('transform', at).call(axis.tickFormat(''));
  g.selectAll('line').attr('stroke-width', width);
}
frameTicks(d3.axisTop(x).tickValues(xMinor).tickSize(7), 'translate(0,' + bottom + ')', 2);
frameTicks(d3.axisTop(x).tickValues(xTicks).tickSize(15), 'translate(0,' + bottom + ')', 2);
frameTicks(d3.axisBottom(x).tickValues(xMinor).tickSize(7), 'translate(0,' + top_ + ')', 2);
frameTicks(d3.axisBottom(x).tickValues(xTicks).tickSize(15), 'translate(0,' + top_ + ')', 2);
frameTicks(d3.axisRight(y).tickValues(yMinor).tickSize(10), 'translate(' + left + ',0)', 2);
frameTicks(d3.axisRight(y).tickValues(yTicks).tickSize(20), 'translate(' + left + ',0)', 2);
frameTicks(d3.axisLeft(y).tickValues(yMinor).tickSize(10), 'translate(' + right + ',0)', 2);
frameTicks(d3.axisLeft(y).tickValues(yTicks).tickSize(20), 'translate(' + right + ',0)', 2);

svg.append('rect').attr('x', left).attr('y', top_).attr('width', right - left).attr('height', bottom - top_)
  .attr('fill', 'none').attr('stroke', '#000').attr('stroke-width', 4);

// tick labels, the picture is stretched sideways so the text is too
function tickLabel(px, py, anchor, text, sup) {
  var t = svg.append('text').attr('class', 'tick-lbl').attr('text-anchor', anchor)
    .attr('transform', 'translate(' + px + ',' + py + ') scale(1.3,1)').text(text);
  if (sup) t.append('tspan').attr('font-size', 22).attr('dy', -16).text(sup);
}
xTicks.forEach(function (v, i) {
  tickLabel(x(v), xTickSup[i] ? 1400 : 1392, 'middle', xTickText[i], xTickSup[i]);
});
yTicks.forEach(function (v, i) {
  tickLabel(169, y(v) + (yTickSup[i] ? 16 : 12), 'end', yTickText[i], yTickSup[i]);
});

svg.append('text').attr('x', 819).attr('y', 1450).attr('font-size', 38).attr('fill', '#222')
  .attr('textLength', 548).attr('lengthAdjust', 'spacingAndGlyphs').text('Orbital Period [Days]');
svg.append('text').attr('transform', 'translate(66,935) rotate(-90) scale(1,1.5)').attr('font-size', 44).attr('fill', '#222')
  .attr('textLength', 492).attr('lengthAdjust', 'spacingAndGlyphs').text('Planet Mass [Jupiter Mass]');
</script>
</body>
</html>
